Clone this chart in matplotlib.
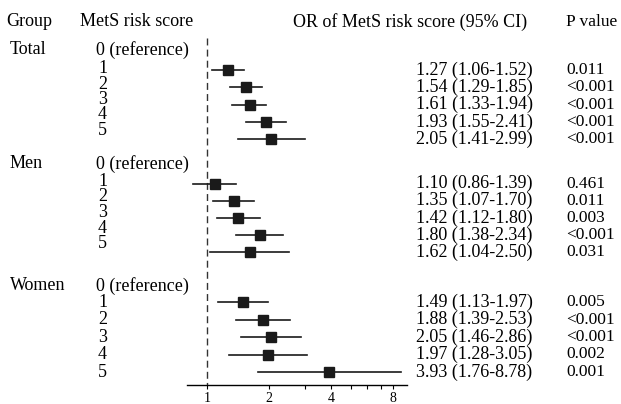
import numpy as np
import matplotlib.pyplot as plt
from matplotlib.transforms import blended_transform_factory

plt.rcParams['font.family'] = ['Liberation Serif', 'DejaVu Serif']

# Dannye
groups = ['Total', 'Men', 'Women']
scores = ['1', '2', '3', '4', '5']
or_total = [1.27, 1.54, 1.61, 1.93, 2.05]
lo_total = [1.06, 1.29, 1.33, 1.55, 1.41]
hi_total = [1.52, 1.85, 1.94, 2.41, 2.99]
p_total = ['0.011', '<0.001', '<0.001', '<0.001', '<0.001']

or_men = [1.10, 1.35, 1.42, 1.80, 1.62]
lo_men = [0.86, 1.07, 1.12, 1.38, 1.04]
hi_men = [1.39, 1.70, 1.80, 2.34, 2.50]
p_men = ['0.461', '0.011', '0.003', '<0.001', '0.031']

or_women = [1.49, 1.88, 2.05, 1.97, 3.93]
lo_women = [1.13, 1.39, 1.46, 1.28, 1.76]
hi_women = [1.97, 2.53, 2.86, 3.05, 8.78]
p_women = ['0.005', '<0.001', '<0.001', '0.002', '0.001']

xticks = [1, 2, 4, 8]

W, H = 621, 404
fig = plt.figure(figsize=(W / 100, H / 100), dpi=100)

# Os' forest-plota (y v pikselyah sverhu)
axis_y = 385
ax = fig.add_axes([187 / W, (H - axis_y) / H, 220 / W, axis_y / H])
ax.set_xscale('log', base=2)
ax.set_xlim(0.80, 9.36)
ax.set_ylim(axis_y, 0)
for s in ['top', 'right', 'left']:
    ax.spines[s].set_visible(False)
ax.spines['bottom'].set_linewidth(1.0)
ax.set_yticks([])
ax.set_xticks(xticks)
ax.set_xticklabels([str(t) for t in xticks])
ax.set_xticks([3, 5, 6, 7], minor=True)
ax.tick_params(axis='x', which='both', direction='out', length=3, width=0.8,
               labelsize=10, pad=2)
ax.xaxis.set_minor_formatter(plt.NullFormatter())

# Pozitsii strok: (gruppa, pervaya podpis', shag podpisey, stroki forest)
row_y = {
    'Total': (50, 70, 14.8, [70 + 17.3 * i for i in range(5)]),
    'Men': (164, 182, 15.2, [183.5 + 17.2 * i for i in range(5)]),
    'Women': (286, 302, 17.6, [302 + 17.5 * i for i in range(5)]),
}
data = {
    'Total': (or_total, lo_total, hi_total, p_total),
    'Men': (or_men, lo_men, hi_men, p_men),
    'Women': (or_women, lo_women, hi_women, p_women),
}

ax.plot([1, 1], [38, axis_y], color='#333333', lw=1, dashes=(5, 3))

tr = blended_transform_factory(fig.transFigure, ax.transData)
FS = 13
renderer = fig.canvas.get_renderer()

def put(x_px, y, s, fs=FS):
    return ax.text(x_px / W, y, s, transform=tr, fontsize=fs, va='center',
                   ha='left', clip_on=False)

def put_lines(x_px, y0, step, lines):
    # mnogostrochnyi tekst s zadannym shagom strok v pikselyah
    t = put(x_px, y0 + step * (len(lines) - 1) / 2, '\n'.join(lines))
    _, lp_h, lp_d = renderer.get_text_width_height_descent(
        'lp', t.get_fontproperties(), ismath=False)
    t.set_linespacing(step / lp_h)
    return t

# Zagolovki
put(6, 22, 'Group')
put(80, 22, 'MetS risk score')
put(293, 22, 'OR of MetS risk score (95% CI)')
put(566, 22, 'P value', 12.5)

for g in groups:
    ref_y, first_y, step, mk_y = row_y[g]
    orv, lo, hi, pv = data[g]
    put(10, ref_y, g)
    put(96, ref_y, '0 (reference)')
    put_lines(98, first_y, step, scores)
    for i in range(5):
        ax.plot([lo[i], hi[i]], [mk_y[i], mk_y[i]], color='#1a1a1a', lw=1.2,
                clip_on=False)
        ax.plot(orv[i], mk_y[i], marker='s', ms=7.5, color='#1a1a1a',
                clip_on=False)
        put(416, mk_y[i], f'{orv[i]:.2f} ({lo[i]:.2f}-{hi[i]:.2f})')
        put(566, mk_y[i], pv[i], 12.5)

fig.savefig('out.png', dpi=100)
